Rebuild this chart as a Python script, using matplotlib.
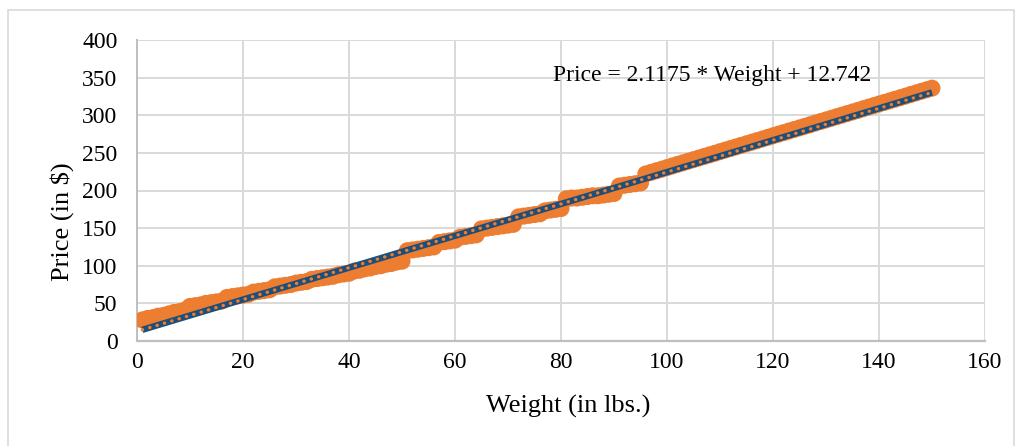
import matplotlib.pyplot as plt
import matplotlib.patches as patches

# weight in lbs (1..150) and price in $
weight = list(range(1, 151))
price = [
    28, 30, 31, 33, 34, 36, 38, 39, 41,                  # 1-9
    46, 47, 48, 50, 51, 52, 53,                          # 10-16
    58, 59, 60, 61, 62,                                  # 17-21
    65, 66, 67, 68,                                      # 22-25
    72, 73, 74, 75, 77, 78, 79,                          # 26-32
    82, 83, 84, 85, 86, 88, 89, 90,                      # 33-40
    93, 94, 96, 97, 99, 100, 102, 103, 105, 106,         # 41-50
    120, 121, 122, 123, 124, 125,                        # 51-56
    131, 132, 133, 134,                                  # 57-60
    138, 139, 140, 141,                                  # 61-64
    149, 150, 151, 152, 153, 154, 155,                   # 65-71
    165, 166, 167, 168, 169,                             # 72-76
    173, 174, 175, 176,                                  # 77-80
    189, 190, 190, 191, 192, 193, 193, 194, 195, 196,    # 81-90
    206, 207, 208, 209, 210,                             # 91-95
    222.0, 224.1, 226.2, 228.3, 230.4, 232.6, 234.7, 236.8, 238.9, 241.0,   # 96-105
    243.1, 245.2, 247.3, 249.4, 251.6, 253.7, 255.8, 257.9, 260.0, 262.1,   # 106-115
    264.2, 266.3, 268.4, 270.6, 272.7, 274.8, 276.9, 279.0, 281.1, 283.2,   # 116-125
    285.3, 287.4, 289.6, 291.7, 293.8, 295.9, 298.0, 300.1, 302.2, 304.3,   # 126-135
    306.4, 308.6, 310.7, 312.8, 314.9, 317.0, 319.1, 321.2, 323.3, 325.4,   # 136-145
    327.6, 329.7, 331.8, 333.9, 336.0,                                      # 146-150
]

# trend line coefficients as printed on the chart
slope = 2.1175
intercept = 12.742

xticks = [0, 20, 40, 60, 80, 100, 120, 140, 160]
yticks = [0, 50, 100, 150, 200, 250, 300, 350, 400]

plt.rcParams['font.family'] = ['Liberation Serif', 'DejaVu Serif']

fig = plt.figure(figsize=(10.2, 4.46), dpi=100)
ax = fig.add_axes([137/1020, 1-341/446, 848/1020, 301/446])

# outer chart border
fig.patches.append(patches.Rectangle((8/1020, -0.05), 1006/1020, 1-10/446+0.05,
                                     transform=fig.transFigure, fill=False,
                                     edgecolor='#D9D9D9', linewidth=1.2))

ax.scatter(weight, price, s=150, color='#ED7D31', edgecolors='none', zorder=3)

tx = [weight[0], weight[-1]]
ty = [slope*w + intercept for w in tx]
ax.plot(tx, ty, color='#1F4E79', linewidth=4.6, solid_capstyle='butt', zorder=4)
ax.plot(tx, ty, color='#ED7D31', linewidth=2.4, linestyle=(0, (0.1, 2.2)),
        dash_capstyle='round', zorder=5)

ax.text(78.5, 353, 'Price = 2.1175 * Weight + 12.742', fontsize=17,
        ha='left', va='center', zorder=6)

ax.set_xlim(0, 160)
ax.set_ylim(0, 400)
ax.set_xticks(xticks)
ax.set_yticks(yticks)
ax.tick_params(axis='both', length=0, labelsize=17)
ax.tick_params(axis='x', pad=8)
ax.tick_params(axis='y', pad=14)
ax.grid(True, color='#D9D9D9', linewidth=1.4)
ax.set_axisbelow(True)

for side in ['top', 'right']:
    ax.spines[side].set_visible(False)
ax.spines['left'].set_color('#BFBFBF')
ax.spines['bottom'].set_color('#BFBFBF')
ax.spines['left'].set_linewidth(1.4)
ax.spines['bottom'].set_linewidth(1.6)

ax.set_xlabel('Weight (in lbs.)', fontsize=19)
ax.set_ylabel('Price (in $)', fontsize=19)
ax.xaxis.set_label_coords(0.509, -0.216)
ax.yaxis.set_label_coords(-0.088, 0.395)
ax.xaxis.label.set_va('center')
ax.yaxis.label.set_va('center')

fig.savefig('out.png', dpi=100)
